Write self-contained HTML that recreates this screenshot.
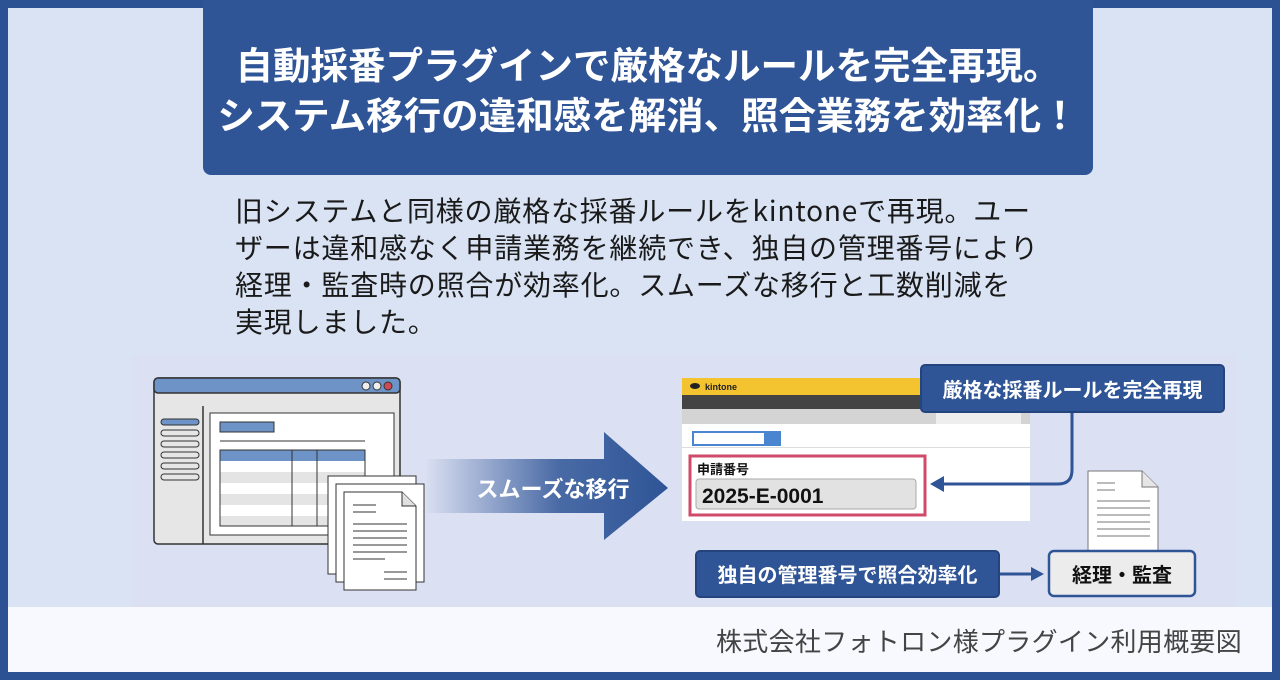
<!DOCTYPE html>
<html><head><meta charset="utf-8"><style>
*{margin:0;padding:0;box-sizing:border-box}
body{width:1280px;height:680px;overflow:hidden;background:#2d5294;font-family:"Liberation Sans","Noto Sans CJK JP",sans-serif;position:relative}
.inner{position:absolute;left:8px;top:8px;width:1264px;height:664px;background:#d9e3f3}
.footer{position:absolute;left:8px;top:607px;width:1264px;height:65px;background:#f7f9fe}
.title{position:absolute;left:203px;top:0;width:890px;height:175px;background:#2f5597;border-radius:0 0 8px 8px;color:#fff;font-weight:bold;font-size:37.5px;text-align:center;padding-top:38px;line-height:50px;font-family:"Noto Sans CJK JP",sans-serif;white-space:nowrap}
.body{position:absolute;left:235px;top:192px;font-size:28px;letter-spacing:0.8px;line-height:37px;color:#1a1a1a;font-family:"Noto Sans CJK JP",sans-serif;white-space:nowrap}
.img{position:absolute;left:131px;top:355px;width:1105px;height:252px;background:#dbe0f2}
.cap{position:absolute;left:716px;top:622px;font-size:26px;letter-spacing:0.3px;color:#444;font-family:"Noto Sans CJK JP",sans-serif;white-space:nowrap}
.lbl{position:absolute;background:#2f5597;color:#fff;font-weight:bold;font-family:"Noto Sans CJK JP",sans-serif;border-radius:5px;border:2px solid #24447e;text-align:center;white-space:nowrap}
</style></head><body>
<div class="inner"></div>
<div class="footer"></div>
<div class="title">自動採番プラグインで厳格なルールを完全再現。<br>システム移行の違和感を解消、照合業務を効率化！</div>
<div class="body">旧システムと同様の厳格な採番ルールをkintoneで再現。ユー<br>ザーは違和感なく申請業務を継続でき、独自の管理番号により<br>経理・監査時の照合が効率化。スムーズな移行と工数削減を<br>実現しました。</div>
<div class="img"></div>
<svg style="position:absolute;left:0;top:0" width="1280" height="680">
<defs><linearGradient id="g" x1="0" x2="1"><stop offset="0" stop-color="#2f5597" stop-opacity="0"/><stop offset="0.55" stop-color="#2f5597" stop-opacity="0.85"/><stop offset="1" stop-color="#2f5597"/></linearGradient></defs>
<rect x="154" y="378" width="246" height="166" rx="4" fill="#e6e6e6" stroke="#333" stroke-width="1.5"/>
<rect x="154" y="378" width="246" height="15" rx="4" fill="#6e93c6" stroke="#333" stroke-width="1.5"/>
<circle cx="366" cy="386" r="4" fill="#eee" stroke="#333"/><circle cx="377" cy="386" r="4" fill="#eee" stroke="#333"/><circle cx="388" cy="386" r="4" fill="#d04a55" stroke="#333"/>
<line x1="203" y1="406" x2="203" y2="544" stroke="#333" stroke-width="1.5"/>
<g fill="#e6e6e6" stroke="#333"><rect x="161" y="419" width="38" height="6" rx="3" fill="#6e93c6"/><rect x="161" y="430" width="38" height="6" rx="3"/><rect x="161" y="441" width="38" height="6" rx="3"/><rect x="161" y="452" width="38" height="6" rx="3"/><rect x="161" y="463" width="38" height="6" rx="3"/><rect x="161" y="474" width="38" height="6" rx="3"/></g>
<rect x="210" y="413" width="184" height="122" fill="#fff" stroke="#333"/>
<rect x="220" y="422" width="54" height="10" fill="#6e93c6" stroke="#333"/>
<line x1="220" y1="441" x2="365" y2="441" stroke="#333"/>
<rect x="220" y="450" width="145" height="11" fill="#6e93c6"/>
<rect x="220" y="472" width="145" height="11" fill="#e4e4e4"/><rect x="220" y="494" width="145" height="11" fill="#e4e4e4"/><rect x="220" y="516" width="145" height="10" fill="#e4e4e4"/>
<rect x="220" y="450" width="145" height="76" fill="none" stroke="#333"/>
<line x1="292" y1="450" x2="292" y2="526" stroke="#333"/><line x1="317" y1="450" x2="317" y2="526" stroke="#333"/>
<rect x="328" y="476" width="88" height="98" fill="#fff" stroke="#333"/>
<rect x="336" y="484" width="88" height="98" fill="#fff" stroke="#333"/>
<path d="M344 492 H402 L416 506 V590 H344 Z" fill="#fff" stroke="#333"/><path d="M402 492 V506 H416" fill="#e0e0e0" stroke="#333"/>
<g stroke="#333"><line x1="353" y1="505" x2="376" y2="505"/><line x1="353" y1="512" x2="376" y2="512"/><line x1="353" y1="524" x2="407" y2="524"/><line x1="353" y1="531" x2="407" y2="531"/><line x1="353" y1="538" x2="407" y2="538"/><line x1="353" y1="545" x2="407" y2="545"/><line x1="353" y1="552" x2="407" y2="552"/><line x1="353" y1="559" x2="385" y2="559"/><line x1="384" y1="572" x2="407" y2="572"/><line x1="384" y1="579" x2="407" y2="579"/></g>
<path d="M425 459 H604 V432 L668 488 L604 540 V513 H425 Z" fill="url(#g)"/>
<text x="553" y="497" font-size="22" font-weight="bold" fill="#fff" text-anchor="middle" font-family="Noto Sans CJK JP,sans-serif">スムーズな移行</text>
<rect x="682" y="378" width="348" height="143" fill="#fff"/>
<rect x="682" y="378" width="348" height="17" fill="#f4c430"/>
<text x="705" y="390" font-size="9" font-weight="bold" fill="#222">kintone</text>
<ellipse cx="695" cy="386" rx="5" ry="3" fill="#222"/>
<rect x="682" y="395" width="348" height="14" fill="#444"/>
<rect x="682" y="409" width="348" height="15" fill="#d4d4d4"/>
<rect x="936" y="409" width="85" height="15" fill="#eee"/>
<rect x="682" y="447" width="348" height="1" fill="#ddd"/>
<rect x="692" y="431" width="89" height="15" fill="#4a86d0"/><rect x="694" y="433" width="70" height="11" fill="#fff"/>
<rect x="690" y="456" width="235" height="59" fill="#fff" stroke="#d04a6a" stroke-width="3"/>
<text x="697" y="474" font-size="13" font-weight="bold" fill="#111" font-family="Noto Sans CJK JP,sans-serif">申請番号</text>
<rect x="696" y="479" width="220" height="30" rx="3" fill="#e2e2e2" stroke="#aaa"/>
<text x="702" y="503" font-size="21" font-weight="bold" fill="#111">2025-E-0001</text>
<path d="M1072 412 V470 Q1072 484 1058 484 H942" fill="none" stroke="#2f5597" stroke-width="3"/>
<path d="M930 484 L944 476 V492 Z" fill="#2f5597"/>
<path d="M1088 471 H1142 L1158 487 V552 H1088 Z" fill="#fff" stroke="#777"/><path d="M1142 471 V487 H1158" fill="#e6e6e6" stroke="#777"/>
<g stroke="#777"><line x1="1097" y1="483" x2="1115" y2="483"/><line x1="1097" y1="490" x2="1115" y2="490"/><line x1="1097" y1="501" x2="1150" y2="501"/><line x1="1097" y1="508" x2="1150" y2="508"/><line x1="1097" y1="515" x2="1150" y2="515"/><line x1="1097" y1="522" x2="1150" y2="522"/><line x1="1097" y1="529" x2="1150" y2="529"/><line x1="1097" y1="536" x2="1150" y2="536"/></g>
<rect x="1049" y="551" width="146" height="45" rx="5" fill="#ececec" stroke="#2f5597" stroke-width="2.5"/>
<text x="1122" y="582" font-size="20" font-weight="bold" fill="#111" text-anchor="middle" font-family="Noto Sans CJK JP,sans-serif">経理・監査</text>
<line x1="1000" y1="574" x2="1032" y2="574" stroke="#2f5597" stroke-width="3"/>
<path d="M1044 574 L1031 567 V581 Z" fill="#2f5597"/>
</svg>
<div class="lbl" style="left:920px;top:364px;width:305px;height:49px;font-size:20px;line-height:45px">厳格な採番ルールを完全再現</div>
<div class="lbl" style="left:695px;top:550px;width:305px;height:48px;font-size:20px;line-height:44px">独自の管理番号で照合効率化</div>
<div class="cap">株式会社フォトロン様プラグイン利用概要図</div>
</body></html>
